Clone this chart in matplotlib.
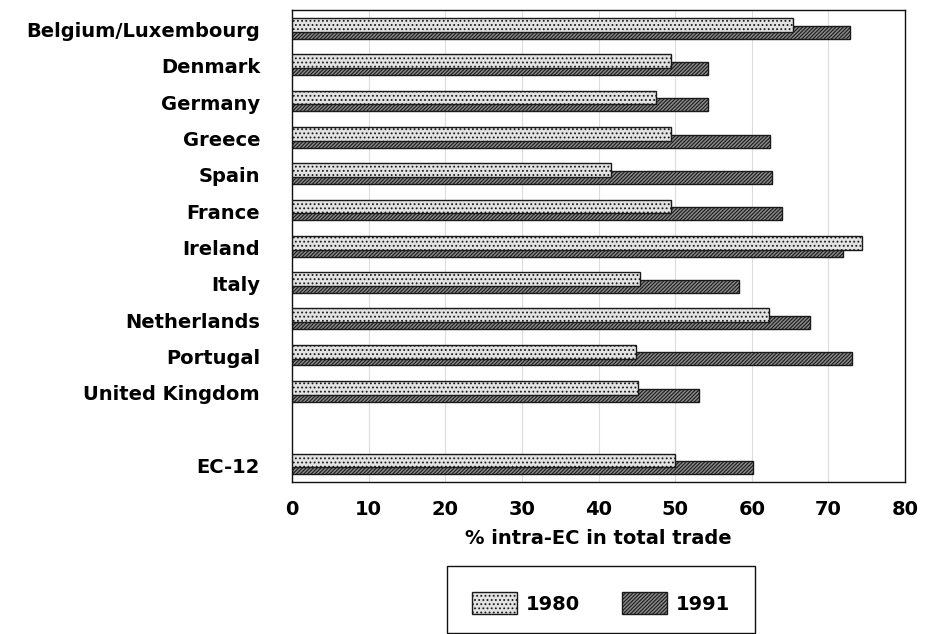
import matplotlib
matplotlib.use("Agg")
import matplotlib.pyplot as plt
from matplotlib.patches import Patch, Rectangle
import numpy as np

plt.rcParams['font.family'] = ['DejaVu Sans']
plt.rcParams['hatch.linewidth'] = 0.8

countries = ["Belgium/Luxembourg", "Denmark", "Germany", "Greece", "Spain",
             "France", "Ireland", "Italy", "Netherlands", "Portugal",
             "United Kingdom", "EC-12"]
share_1980 = [65.4, 49.4, 47.5, 49.4, 41.6, 49.5, 74.4, 45.4, 62.2, 44.9, 45.2, 50.0]
share_1991 = [72.8, 54.3, 54.3, 62.4, 62.6, 63.9, 71.9, 58.3, 67.6, 73.1, 53.1, 60.1]
years = ["1980", "1991"]
xticks = [0, 10, 20, 30, 40, 50, 60, 70, 80]

# one empty row between the member states and the EC-12 total
ypos = np.array(list(range(11)) + [12])

W, H = 926, 634
fig = plt.figure(figsize=(W / 100, H / 100), dpi=100)
ax = fig.add_axes([292 / W, 1 - 482 / H, (905 - 292) / W, (482 - 10) / H])

light = dict(facecolor="#e2e2e2", edgecolor="#1a1a1a", hatch="....", linewidth=1.0)
dark = dict(facecolor="#8a8a8a", edgecolor="#1a1a1a", hatch="/////////", linewidth=1.0)

ax.barh(ypos + 0.11, share_1991, height=0.36, zorder=2, **dark)
ax.barh(ypos - 0.09, share_1980, height=0.38, zorder=3, **light)

FS = 14
ax.set_xlim(0, 80)
ax.set_ylim(12.5, -0.5)
ax.set_xticks(xticks)
ax.set_xticklabels([str(t) for t in xticks])
ax.set_yticks(ypos + 0.04)
ax.set_yticklabels(countries)
ax.tick_params(axis="both", length=0, labelsize=FS)
ax.tick_params(axis="x", pad=13)
ax.tick_params(axis="y", pad=23)
for lab in ax.get_xticklabels() + ax.get_yticklabels():
    lab.set_fontweight("bold")
ax.grid(axis="x", color="#dcdcdc", linewidth=0.8, zorder=0)
ax.set_axisbelow(True)
for s in ax.spines.values():
    s.set_color("#111111")
    s.set_linewidth(1.0)

ax.set_xlabel("% intra-EC in total trade", fontsize=FS, fontweight="bold", labelpad=7)

# legend box drawn in figure pixels, entries centred inside it
box = Rectangle((447 / W, 1 - 633 / H), (755 - 447) / W, (633 - 566) / H,
                transform=fig.transFigure, fill=False, edgecolor="#111111", linewidth=1.0)
fig.add_artist(box)
handles = [Patch(label=years[0], **light), Patch(label=years[1], **dark)]
leg = fig.legend(handles=handles, loc="center", bbox_to_anchor=(601 / W, 1 - 603 / H),
                 ncol=2, frameon=False, prop={"size": FS, "weight": "bold"},
                 handlelength=2.3, handleheight=1.3, columnspacing=2.2,
                 handletextpad=0.45, borderpad=0.0)

fig.savefig("out.png", dpi=100)
